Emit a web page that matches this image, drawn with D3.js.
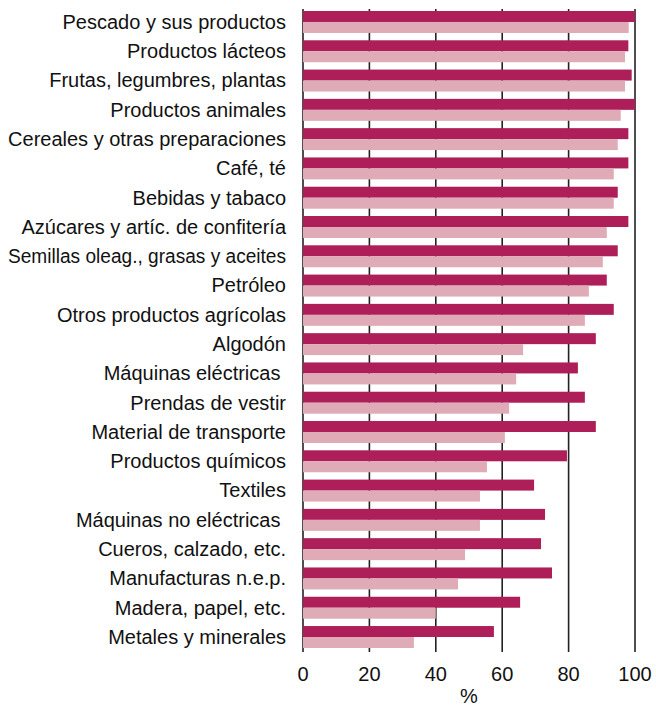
<!DOCTYPE html>
<html>
<head>
<meta charset="utf-8">
<script src="https://cdn.jsdelivr.net/npm/d3@7"></script>
<style>
  body { margin: 0; background: #fff; }
  text { font-family: "Liberation Sans", Arial, sans-serif; fill: #111; }
</style>
</head>
<body>
<div id="chart"></div>
<script>
var categories = [
  "Pescado y sus productos", "Productos lácteos", "Frutas, legumbres, plantas",
  "Productos animales", "Cereales y otras preparaciones", "Café, té",
  "Bebidas y tabaco", "Azúcares y artíc. de confitería",
  "Semillas oleag., grasas y aceites", "Petróleo", "Otros productos agrícolas",
  "Algodón", "Máquinas eléctricas ", "Prendas de vestir",
  "Material de transporte", "Productos químicos", "Textiles",
  "Máquinas no eléctricas ", "Cueros, calzado, etc.", "Manufacturas n.e.p.",
  "Madera, papel, etc.", "Metales y minerales"
];
var seriesDark = [100, 98, 99, 100, 98, 98, 94.8, 98, 94.8, 91.5, 93.6, 88.2,
                  82.8, 84.9, 88.2, 79.5, 69.6, 72.9, 71.7, 75, 65.4, 57.5];
var seriesLight = [98.1, 97, 97, 95.7, 94.8, 93.6, 93.6, 91.5, 90.3, 86.1, 84.9, 66.3,
                   64.2, 62.1, 60.8, 55.4, 53.3, 53.3, 48.8, 46.7, 40, 33.4];
var seriesNames = ["dark", "light"];
var xTicks = [0, 20, 40, 60, 80, 100];
var xLabel = "%";

var width = 656, height = 708;
var colors = { dark: "#ae1e58", light: "#deabb7" };
var labelRight = 286, labelMax = 278;

var svg = d3.select("#chart").append("svg")
    .attr("width", width)
    .attr("height", height);

var x = d3.scaleLinear().domain([0, 100]).range([303, 635]);

var y = d3.scaleBand()
    .domain(categories)
    .range([11, 648])
    .paddingInner(0.25)
    .paddingOuter(0);

var ySub = d3.scaleBand()
    .domain(seriesNames)
    .range([0, y.bandwidth()]);

var rows = categories.map(function(c, i) {
  return { cat: c, dark: seriesDark[i], light: seriesLight[i] };
});

// gridlines (behind bars)
svg.append("g").selectAll("line")
    .data(xTicks)
    .enter().append("line")
      .attr("x1", function(d) { return x(d); })
      .attr("x2", function(d) { return x(d); })
      .attr("y1", 9)
      .attr("y2", 652)
      .style("stroke", "#222")
      .style("stroke-width", 1.6);

var groups = svg.append("g").selectAll("g")
    .data(rows)
    .enter().append("g")
      .attr("transform", function(d) { return "translate(0," + y(d.cat) + ")"; });

groups.selectAll("rect")
    .data(function(d) { return seriesNames.map(function(s) { return { s: s, v: d[s] }; }); })
    .enter().append("rect")
      .attr("x", x(0))
      .attr("y", function(d) { return ySub(d.s); })
      .attr("width", function(d) { return x(d.v) - x(0); })
      .attr("height", ySub.bandwidth())
      .style("fill", function(d) { return colors[d.s]; });

// category labels
var labels = svg.append("g").selectAll("text")
    .data(categories)
    .enter().append("text")
      .text(function(d) { return d; })
      .attr("x", labelRight)
      .attr("y", function(d) { return y(d) + y.bandwidth() / 2; })
      .attr("dy", "0.34em")
      .style("text-anchor", "end")
      .style("white-space", "pre")
      .attr("xml:space", "preserve")
      .style("font-size", "20px");

// squeeze the few labels that run past the left edge
labels.each(function() {
  if (this.getComputedTextLength() > labelMax) {
    d3.select(this)
      .attr("textLength", labelMax)
      .attr("lengthAdjust", "spacingAndGlyphs");
  }
});

// tick labels
svg.append("g").selectAll("text")
    .data(xTicks)
    .enter().append("text")
      .text(function(d) { return d; })
      .attr("x", function(d) { return x(d); })
      .attr("y", 681)
      .style("text-anchor", "middle")
      .style("font-size", "20px");

svg.append("text")
    .text(xLabel)
    .attr("x", x(50))
    .attr("y", 703)
    .style("text-anchor", "middle")
    .style("font-size", "20px");
</script>
</body>
</html>
